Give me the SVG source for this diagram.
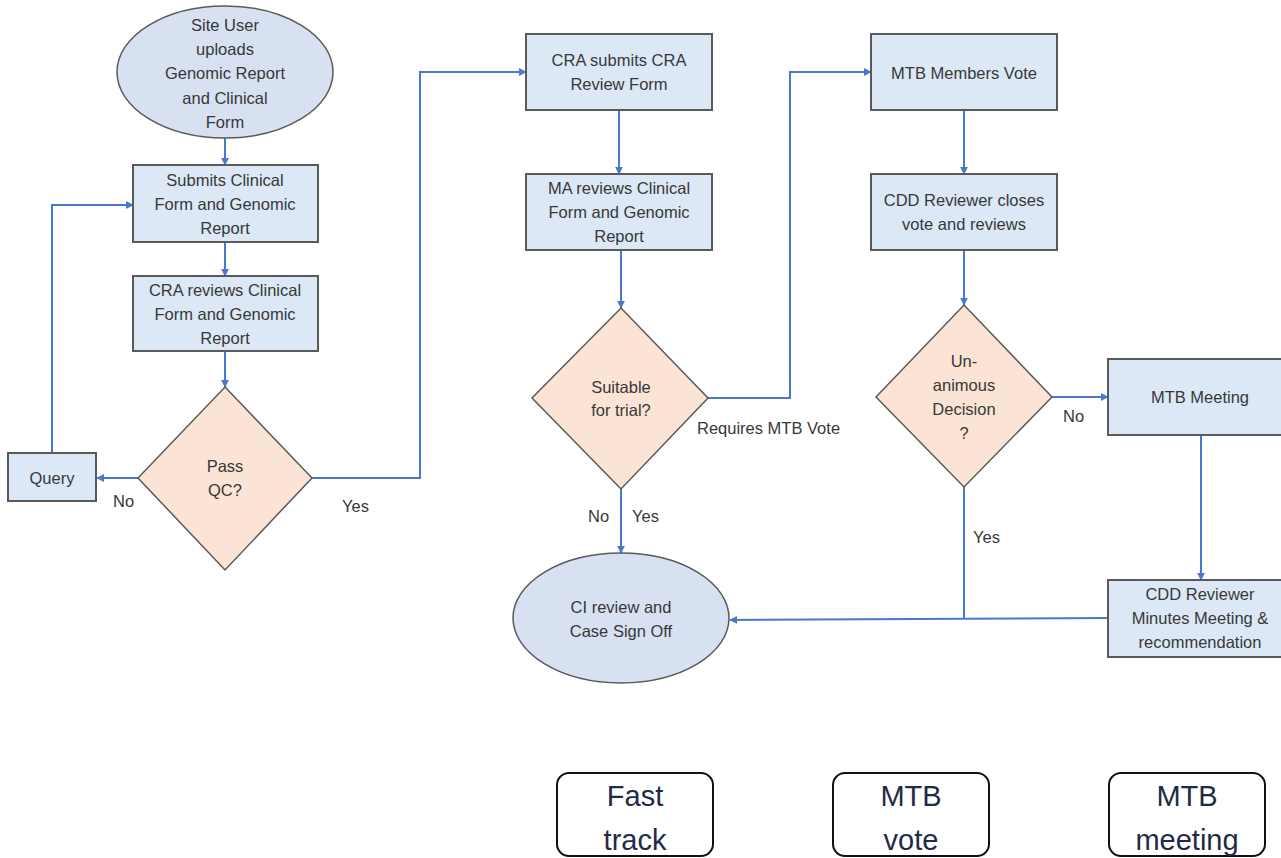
<svg xmlns="http://www.w3.org/2000/svg" width="1281" height="858" viewBox="0 0 1281 858">
<style>
  .box { fill: #dce8f5; stroke: #5a5a5a; stroke-width: 2; }
  .oval { fill: #d7e1f1; stroke: #5a5a5a; stroke-width: 1.5; }
  .dia { fill: #fbe4d5; stroke: #5a5a5a; stroke-width: 1.5; }
  .t { font-family: "Liberation Sans", Arial, sans-serif; font-size: 16.5px; fill: #383838; text-anchor: middle; }
  .lbl { font-family: "Liberation Sans", Arial, sans-serif; font-size: 16.5px; fill: #383838; }
  .c { fill: none; stroke: #4a78cf; stroke-width: 2; }
  .ca { fill: none; stroke: #4a78cf; stroke-width: 2; marker-end: url(#ah); }
  .leg { fill: #ffffff; stroke: #111111; stroke-width: 2; }
  .lt { font-family: "Liberation Sans", Arial, sans-serif; font-size: 29px; fill: #1f2b4a; text-anchor: middle; }
</style>
<defs>
  <marker id="ah" viewBox="0 0 10 10" refX="9" refY="5" markerWidth="4" markerHeight="4" orient="auto" markerUnits="strokeWidth">
    <path d="M0,0 L10,5 L0,10 z" fill="#4a78cf"/>
  </marker>
</defs>
<rect width="1281" height="858" fill="#ffffff"/>

<g id="connectors">
  <path class="ca" d="M225,138 L225,165"/>
  <path class="ca" d="M225,242 L225,276"/>
  <path class="ca" d="M225,351 L225,387"/>
  <path class="ca" d="M138,478 L97,478"/>
  <path class="ca" d="M52,453 L52,205 L133,205"/>
  <path class="ca" d="M312,478 L420,478 L420,72 L526,72"/>
  <path class="ca" d="M619,110 L619,174"/>
  <path class="ca" d="M621,250 L621,308"/>
  <path class="ca" d="M708,398 L790,398 L790,72 L871,72"/>
  <path class="ca" d="M621,489 L621,553"/>
  <path class="ca" d="M964,110 L964,174"/>
  <path class="ca" d="M964,250 L964,305"/>
  <path class="ca" d="M1052,397 L1108,397"/>
  <path class="ca" d="M1201,435 L1201,580"/>
  <path class="c" d="M964,487 L964,619"/>
  <path class="ca" d="M1108,618 L730,620"/>
</g>

<g id="start">
  <ellipse class="oval" cx="225" cy="72" rx="108" ry="66"/>
  <text class="t" x="225" y="31">Site User</text>
  <text class="t" x="225" y="55">uploads</text>
  <text class="t" x="225" y="79">Genomic Report</text>
  <text class="t" x="225" y="104">and Clinical</text>
  <text class="t" x="225" y="128">Form</text>
</g>

<g id="submits">
  <rect class="box" x="133" y="165" width="185" height="77"/>
  <text class="t" x="225" y="186">Submits Clinical</text>
  <text class="t" x="225" y="210">Form and Genomic</text>
  <text class="t" x="225" y="234">Report</text>
</g>

<g id="cra-reviews">
  <rect class="box" x="133" y="276" width="185" height="75"/>
  <text class="t" x="225" y="296">CRA reviews Clinical</text>
  <text class="t" x="225" y="320">Form and Genomic</text>
  <text class="t" x="225" y="344">Report</text>
</g>

<g id="pass-qc">
  <polygon class="dia" points="225,387 312,478 225,570 138,478"/>
  <text class="t" x="225" y="472">Pass</text>
  <text class="t" x="225" y="496">QC?</text>
</g>

<g id="query">
  <rect class="box" x="8" y="453" width="88" height="48"/>
  <text class="t" x="52" y="484">Query</text>
</g>

<g id="cra-submits">
  <rect class="box" x="526" y="34" width="186" height="76"/>
  <text class="t" x="619" y="66">CRA submits CRA</text>
  <text class="t" x="619" y="90">Review Form</text>
</g>

<g id="ma-reviews">
  <rect class="box" x="526" y="174" width="186" height="76"/>
  <text class="t" x="619" y="194">MA reviews Clinical</text>
  <text class="t" x="619" y="218">Form and Genomic</text>
  <text class="t" x="619" y="242">Report</text>
</g>

<g id="suitable">
  <polygon class="dia" points="621,308 708,398 621,489 532,398"/>
  <text class="t" x="621" y="393">Suitable</text>
  <text class="t" x="621" y="416">for trial?</text>
</g>

<g id="ci-review">
  <ellipse class="oval" cx="621" cy="618" rx="108" ry="65"/>
  <text class="t" x="621" y="613">CI review and</text>
  <text class="t" x="621" y="637">Case Sign Off</text>
</g>

<g id="mtb-members">
  <rect class="box" x="871" y="34" width="186" height="76"/>
  <text class="t" x="964" y="79">MTB Members Vote</text>
</g>

<g id="cdd-closes">
  <rect class="box" x="871" y="174" width="186" height="76"/>
  <text class="t" x="964" y="206">CDD Reviewer closes</text>
  <text class="t" x="964" y="230">vote and reviews</text>
</g>

<g id="unanimous">
  <polygon class="dia" points="964,305 1052,397 964,487 876,397"/>
  <text class="t" x="964" y="367">Un-</text>
  <text class="t" x="964" y="391">animous</text>
  <text class="t" x="964" y="415">Decision</text>
  <text class="t" x="964" y="439">?</text>
</g>

<g id="mtb-meeting">
  <rect class="box" x="1108" y="359" width="180" height="76"/>
  <text class="t" x="1200" y="403">MTB Meeting</text>
</g>

<g id="cdd-minutes">
  <rect class="box" x="1108" y="580" width="180" height="77"/>
  <text class="t" x="1200" y="600">CDD Reviewer</text>
  <text class="t" x="1200" y="624">Minutes Meeting &amp;</text>
  <text class="t" x="1200" y="648">recommendation</text>
</g>

<g id="labels">
  <text class="lbl" x="113" y="507">No</text>
  <text class="lbl" x="342" y="512">Yes</text>
  <text class="lbl" x="697" y="434">Requires MTB Vote</text>
  <text class="lbl" x="588" y="522">No</text>
  <text class="lbl" x="632" y="522">Yes</text>
  <text class="lbl" x="1063" y="422">No</text>
  <text class="lbl" x="973" y="543">Yes</text>
</g>

<g id="legend-fast-track">
  <rect class="leg" x="557" y="773" width="156" height="83" rx="12"/>
  <text class="lt" x="635" y="806">Fast</text>
  <text class="lt" x="635" y="850">track</text>
</g>
<g id="legend-mtb-vote">
  <rect class="leg" x="833" y="773" width="156" height="83" rx="12"/>
  <text class="lt" x="911" y="806">MTB</text>
  <text class="lt" x="911" y="850">vote</text>
</g>
<g id="legend-mtb-meeting">
  <rect class="leg" x="1109" y="773" width="156" height="83" rx="12"/>
  <text class="lt" x="1187" y="806">MTB</text>
  <text class="lt" x="1187" y="850">meeting</text>
</g>
</svg>
